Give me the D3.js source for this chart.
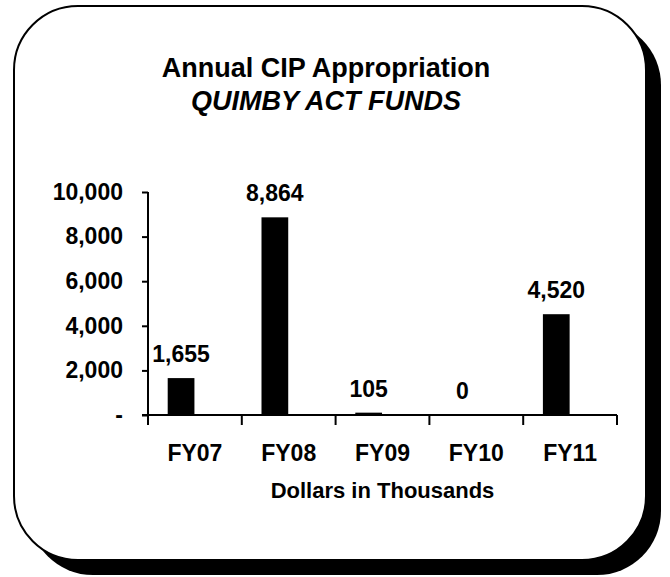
<!DOCTYPE html>
<html>
<head>
<meta charset="utf-8">
<script src="https://cdn.jsdelivr.net/npm/d3@7"></script>
<style>
  html, body { margin: 0; padding: 0; background: #fff; }
  svg { display: block; }
  text { font-family: "Liberation Sans", Arial, sans-serif; font-weight: bold; fill: #000; }
</style>
</head>
<body>
<svg id="chart" width="670" height="577"></svg>
<script>
const categories = ["FY07", "FY08", "FY09", "FY10", "FY11"];
const values = [1655, 8864, 105, 0, 4520];
const valueLabels = ["1,655", "8,864", "105", "0", "4,520"];
const yTickValues = [0, 2000, 4000, 6000, 8000, 10000];
const yTickLabels = ["-", "2,000", "4,000", "6,000", "8,000", "10,000"];
const titleLine1 = "Annual CIP Appropriation";
const titleLine2 = "QUIMBY ACT FUNDS";
const xAxisTitle = "Dollars in Thousands";

const svg = d3.select("#chart");

// frame with shadow
const frame = { x: 14, y: 6, w: 632, h: 554, r: 64, off: 15 };
svg.append("rect")
  .attr("x", frame.x + frame.off).attr("y", frame.y + frame.off)
  .attr("width", frame.w).attr("height", frame.h)
  .attr("rx", frame.r).attr("ry", frame.r)
  .attr("fill", "#000");
svg.append("rect")
  .attr("x", frame.x).attr("y", frame.y)
  .attr("width", frame.w).attr("height", frame.h)
  .attr("rx", frame.r).attr("ry", frame.r)
  .attr("fill", "#fff").attr("stroke", "#000").attr("stroke-width", 2);

// titles
svg.append("text").attr("x", 326).attr("y", 77)
  .attr("text-anchor", "middle").style("font-size", "27px").text(titleLine1);
svg.append("text").attr("x", 326).attr("y", 110)
  .attr("text-anchor", "middle").style("font-size", "27px").style("font-style", "italic").text(titleLine2);

// scales
const x = d3.scaleBand().domain(categories).range([148, 617]).padding(0);
const y = d3.scaleLinear().domain([0, 10000]).range([415, 192]);
const bw = x.bandwidth();
const barOff = bw * 0.21, barW = bw * 0.285;

// bars
svg.append("g").selectAll("rect").data(values).join("rect")
  .attr("x", (d, i) => x(categories[i]) + barOff)
  .attr("y", d => y(d))
  .attr("width", barW)
  .attr("height", d => y(0) - y(d))
  .attr("fill", "#000");

// value labels
svg.append("g").selectAll("text").data(values).join("text")
  .attr("x", (d, i) => x(categories[i]) + barOff + barW / 2)
  .attr("y", d => y(d) - 16)
  .attr("text-anchor", "middle")
  .style("font-size", "23px")
  .text((d, i) => valueLabels[i]);

// y axis
const yAxis = d3.axisLeft(y).tickValues(yTickValues).tickSize(6).tickPadding(19)
  .tickFormat((d, i) => yTickLabels[i]);
const gy = svg.append("g").attr("transform", "translate(148,0)").call(yAxis);
gy.select(".domain").remove();
gy.selectAll(".tick line").attr("stroke", "#000").attr("stroke-width", 2);
gy.selectAll(".tick text").attr("fill", "#000").style("font-size", "23px")
  .style("font-family", "'Liberation Sans', Arial, sans-serif").style("font-weight", "bold");
svg.append("line").attr("x1", 148).attr("x2", 148).attr("y1", y(10000)).attr("y2", y(0) + 10)
  .attr("stroke", "#000").attr("stroke-width", 2);

// x axis
svg.append("line").attr("x1", 142).attr("x2", x.range()[1]).attr("y1", y(0)).attr("y2", y(0))
  .attr("stroke", "#000").attr("stroke-width", 2);
const boundaries = categories.map(c => x(c)).concat([x.range()[1]]);
svg.append("g").selectAll("line").data(boundaries).join("line")
  .attr("x1", d => d).attr("x2", d => d)
  .attr("y1", y(0)).attr("y2", y(0) + 10)
  .attr("stroke", "#000").attr("stroke-width", 2);
svg.append("g").selectAll("text").data(categories).join("text")
  .attr("x", d => x(d) + bw / 2)
  .attr("y", 461)
  .attr("text-anchor", "middle")
  .style("font-size", "23px")
  .text(d => d);

svg.append("text").attr("x", (x.range()[0] + x.range()[1]) / 2).attr("y", 498)
  .attr("text-anchor", "middle").style("font-size", "22px").text(xAxisTitle);
</script>
</body>
</html>
